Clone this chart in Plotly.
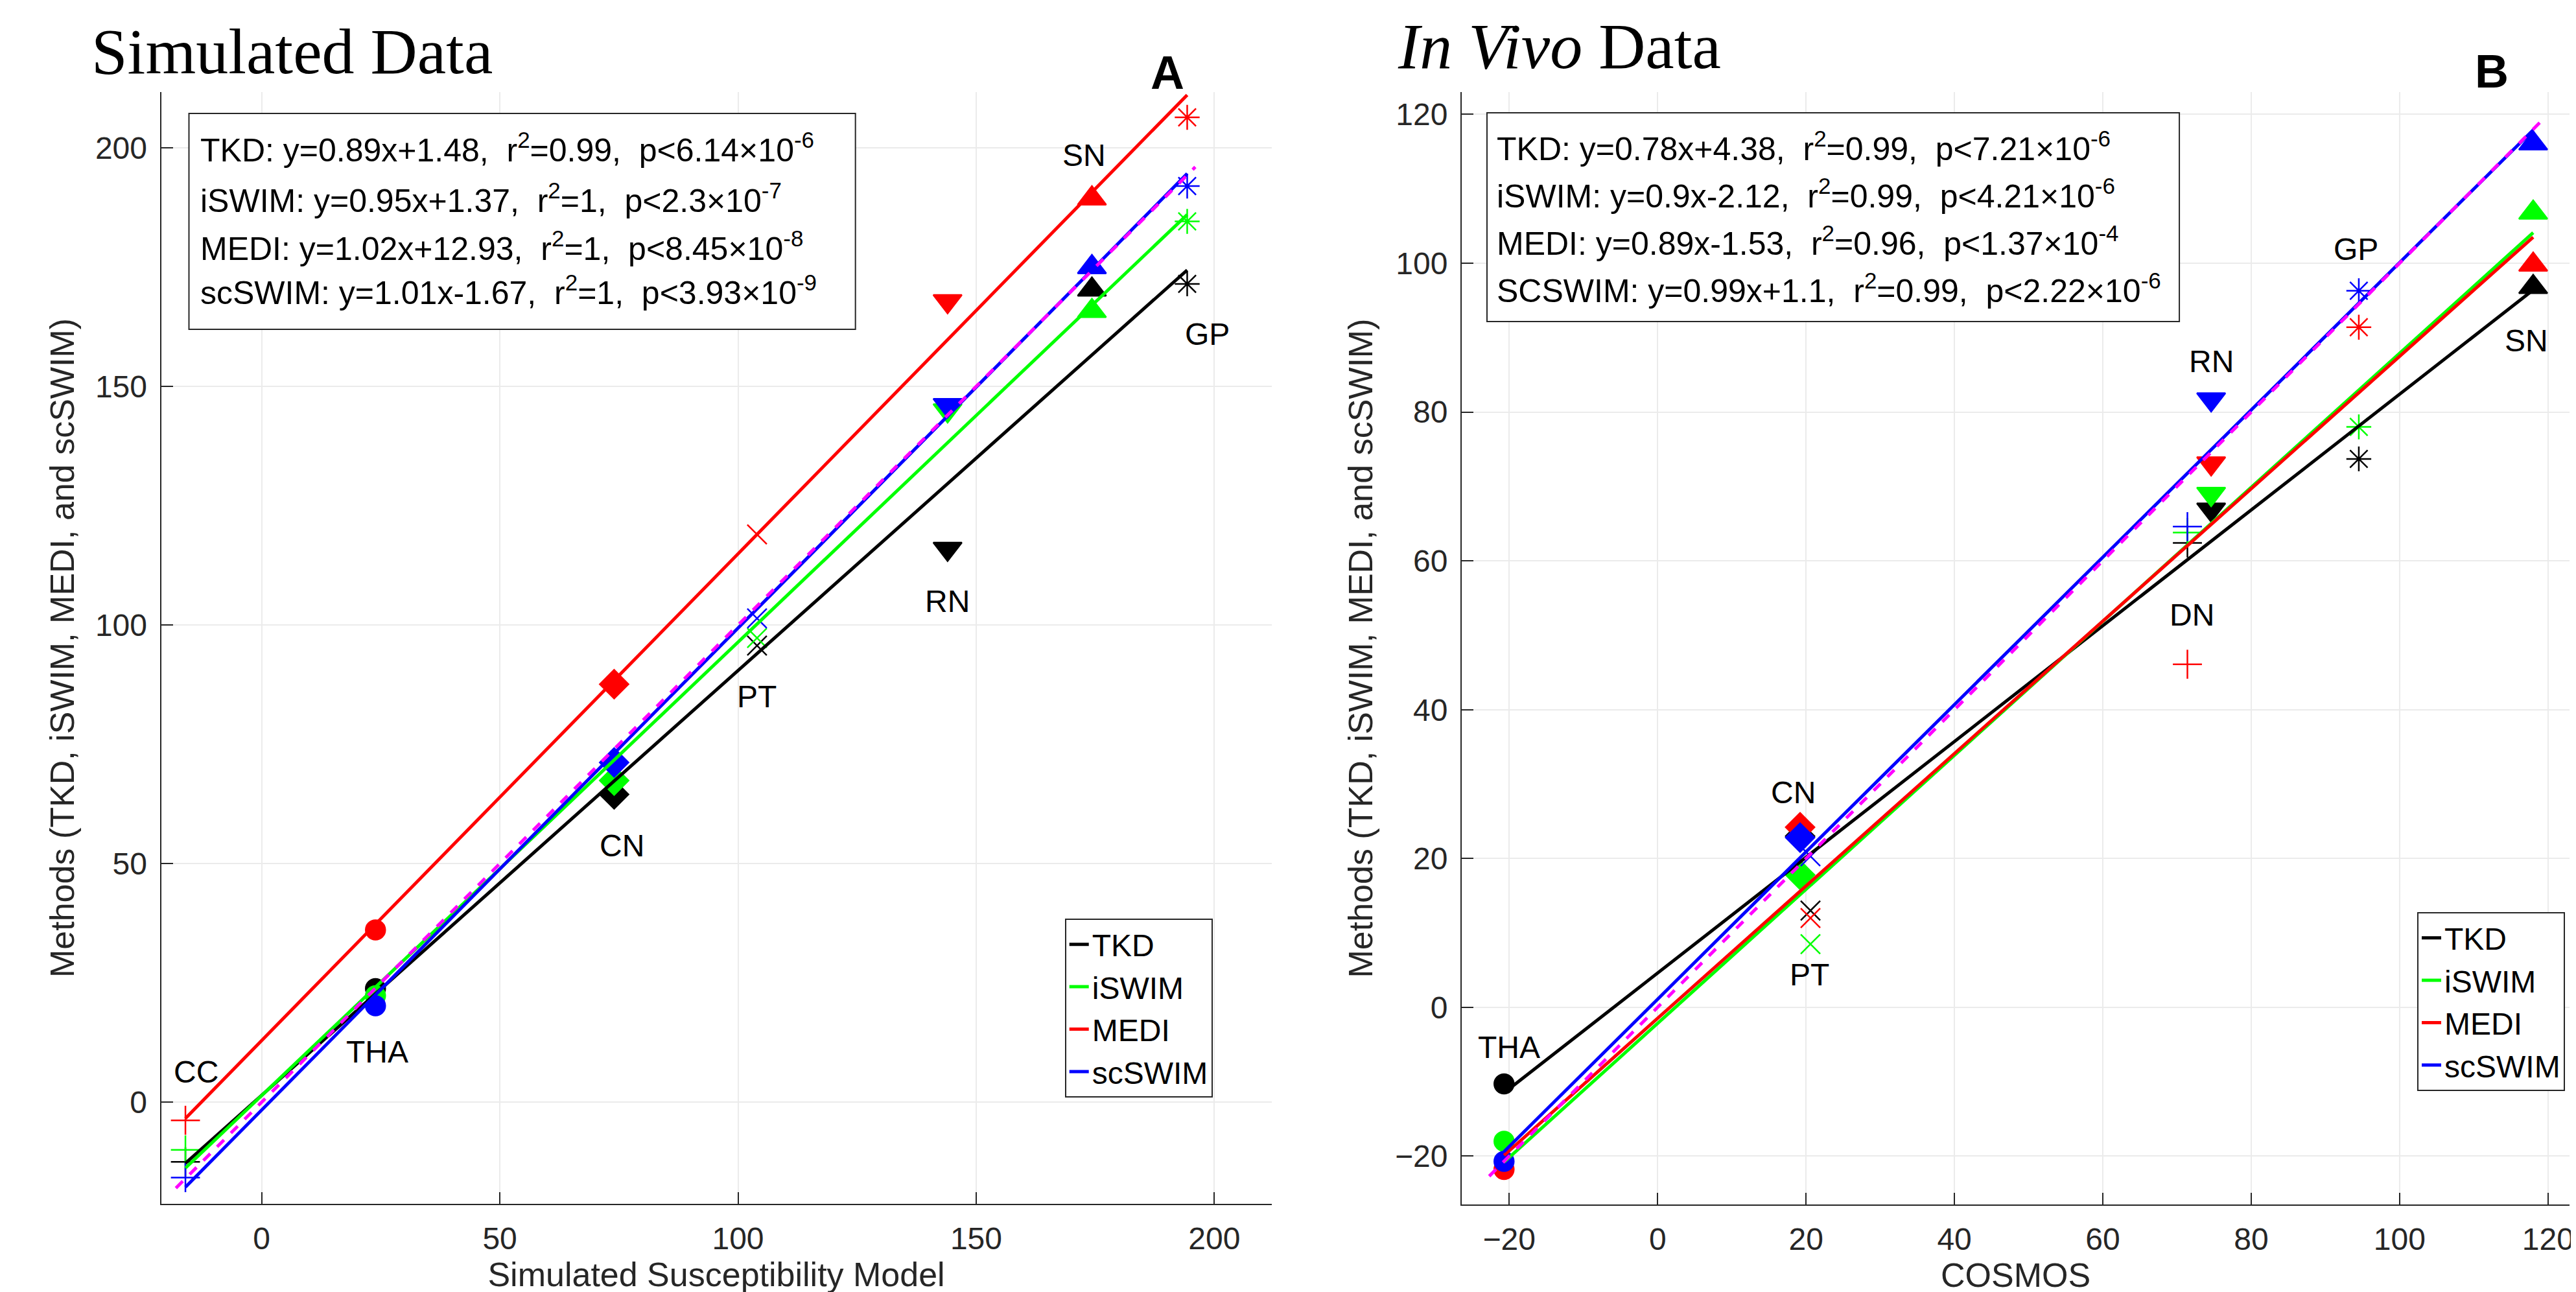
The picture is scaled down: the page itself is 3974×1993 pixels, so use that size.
import plotly.graph_objects as go

# ---- data ----
methods = ["TKD", "iSWIM", "MEDI", "scSWIM"]
colors = ["#000000", "#00ff00", "#ff0000", "#0000ff"]

# Panel A : simulated data
regions_a = ["CC", "THA", "CN", "PT", "RN", "SN", "GP"]
model_a = [-16.0, 23.9, 74.0, 104.0, 144.0, 174.3, 194.3]
tkd_a = [-12.5, 23.8, 64.5, 95.7, 116.0, 170.3, 171.5]
iswim_a = [-10.0, 22.3, 67.4, 97.3, 145.0, 165.8, 184.6]
medi_a = [-3.8, 36.1, 87.6, 119.0, 167.9, 189.4, 206.4]
scswim_a = [-15.8, 20.2, 71.2, 101.4, 146.1, 175.0, 192.0]
symbols_a = ["cross-thin-open", "circle", "diamond", "x-thin-open",
             "triangle-down", "triangle-up", "asterisk-open"]

# fitted lines (end points) and identity line, panel A
fit_x_a = [-16.0, 194.3]
fit_tkd_a = [-12.8, 174.4]
fit_iswim_a = [-13.8, 186.0]
fit_medi_a = [-3.4, 211.1]
fit_scswim_a = [-17.8, 194.6]
ident_a = [-18.0, 196.0]

# Panel B : in vivo data
regions_b = ["THA", "CN", "PT", "DN", "RN", "GP", "SN"]
cosmos_b = [-20.7, 19.2, 20.6, 71.4, 74.6, 94.5, 118.0]
tkd_b = [-10.3, 23.0, 13.0, 62.4, 66.9, 73.7, 96.8]
iswim_b = [-18.0, 17.8, 8.5, 63.8, 69.0, 78.0, 106.8]
medi_b = [-21.8, 24.2, 12.0, 46.1, 73.1, 91.4, 99.8]
scswim_b = [-20.7, 22.8, 20.3, 64.6, 81.7, 96.3, 116.1]
symbols_b = ["circle", "diamond", "x-thin-open", "cross-thin-open",
             "triangle-down", "asterisk-open", "triangle-up"]

fit_x_b = [-20.7, 118.0]
fit_tkd_b = [-11.5, 96.4]
fit_iswim_b = [-20.8, 104.1]
fit_medi_b = [-19.9, 103.5]
fit_scswim_b = [-19.4, 117.9]
ident_b = [-22.7, 119.0]

# region labels
label_a_x = [-13.7, 24.3, 75.7, 104.0, 144.0, 172.7, 198.5]
label_a_y = [6.4, 10.6, 53.8, 85.0, 105.0, 198.4, 161.0]
label_b_x = [-20.0, 18.3, 20.5, 72.0, 74.6, 94.1, 117.1]
label_b_y = [-5.4, 28.9, 4.4, 52.7, 86.8, 101.9, 89.6]

stats_a = [
    "TKD: y=0.89x+1.48,\u00a0 r<sup>2</sup>=0.99,\u00a0 p&lt;6.14\u00d710<sup>-6</sup>",
    "iSWIM: y=0.95x+1.37,\u00a0 r<sup>2</sup>=1,\u00a0 p&lt;2.3\u00d710<sup>-7</sup>",
    "MEDI: y=1.02x+12.93,\u00a0 r<sup>2</sup>=1,\u00a0 p&lt;8.45\u00d710<sup>-8</sup>",
    "scSWIM: y=1.01x-1.67,\u00a0 r<sup>2</sup>=1,\u00a0 p&lt;3.93\u00d710<sup>-9</sup>",
]
stats_b = [
    "TKD: y=0.78x+4.38,\u00a0 r<sup>2</sup>=0.99,\u00a0 p&lt;7.21\u00d710<sup>-6</sup>",
    "iSWIM: y=0.9x-2.12,\u00a0 r<sup>2</sup>=0.99,\u00a0 p&lt;4.21\u00d710<sup>-6</sup>",
    "MEDI: y=0.89x-1.53,\u00a0 r<sup>2</sup>=0.96,\u00a0 p&lt;1.37\u00d710<sup>-4</sup>",
    "SCSWIM: y=0.99x+1.1,\u00a0 r<sup>2</sup>=0.99,\u00a0 p&lt;2.22\u00d710<sup>-6</sup>",
]

# ---- layout helpers (pixel -> paper) ----
W, H = 3974, 1993


def px(x):
    return x / W


def py(y):
    return 1 - y / H


SANS = "Liberation Sans, Arial, Helvetica, sans-serif"
SERIF = "Liberation Serif, Times New Roman, serif"

# marker size per symbol kind
sym_size = {"circle": 30, "diamond": 34, "triangle-down": 38, "triangle-up": 38,
            "cross-thin-open": 32, "x-thin-open": 30, "asterisk-open": 32}

fig = go.Figure()

panels = [
    ("x", "y", "legend", model_a, [tkd_a, iswim_a, medi_a, scswim_a], symbols_a,
     fit_x_a, [fit_tkd_a, fit_iswim_a, fit_medi_a, fit_scswim_a], ident_a),
    ("x2", "y2", "legend2", cosmos_b, [tkd_b, iswim_b, medi_b, scswim_b], symbols_b,
     fit_x_b, [fit_tkd_b, fit_iswim_b, fit_medi_b, fit_scswim_b], ident_b),
]

for xa, ya, leg, xs, series, syms, fx, fits, ident in panels:
    sizes = [sym_size[s] for s in syms]
    # region markers
    for name, col, vals in zip(methods, colors, series):
        fig.add_trace(go.Scatter(
            x=xs, y=vals, mode="markers", xaxis=xa, yaxis=ya,
            showlegend=False, hoverinfo="x+y",
            marker=dict(symbol=syms, size=sizes, color=col, opacity=1,
                        line=dict(color=col, width=2.5)),
        ))
    # fitted lines
    for name, col, vals in zip(methods, colors, fits):
        fig.add_trace(go.Scatter(
            x=fx, y=vals, mode="lines", name=name, xaxis=xa, yaxis=ya,
            legend=leg, line=dict(color=col, width=5),
        ))
    # identity line
    fig.add_trace(go.Scatter(
        x=ident, y=ident, mode="lines", xaxis=xa, yaxis=ya, showlegend=False,
        line=dict(color="#ff00ff", width=5, dash="dash"),
    ))

axis_common = dict(
    showgrid=True, gridcolor="#ebebeb", gridwidth=2,
    showline=True, linecolor="#262626", linewidth=2, mirror=False,
    ticks="inside", ticklen=18, tickwidth=2, tickcolor="#262626",
    zeroline=False, tickfont=dict(family=SANS, size=48, color="#262626"),
    ticklabelstandoff=10,
)

ytitle = "Methods (TKD, iSWIM, MEDI, and scSWIM)"

legend_common = dict(xanchor="right", yanchor="bottom",
                     bgcolor="white", bordercolor="#262626", borderwidth=2,
                     font=dict(family=SANS, size=48, color="black"),
                     tracegroupgap=0)

fig.update_layout(
    width=W, height=H,
    margin=dict(l=0, r=0, t=0, b=0),
    paper_bgcolor="white", plot_bgcolor="white",
    font=dict(family=SANS, color="black"),
    xaxis=dict(domain=[px(241), px(1957)], range=[-21.1, 212], dtick=50,
               anchor="y",
               title=dict(text="Simulated Susceptibility Model", standoff=12,
                          font=dict(size=52, color="#262626")),
               **axis_common),
    yaxis=dict(domain=[py(1849), py(134)], range=[-21.3, 211.7], dtick=50,
               anchor="x",
               title=dict(text=ytitle, standoff=16,
                          font=dict(size=52, color="#262626")),
               **axis_common),
    xaxis2=dict(domain=[px(2251), px(3963)], range=[-26.4, 122.9], dtick=20,
                anchor="y2",
                title=dict(text="COSMOS", standoff=12,
                           font=dict(size=52, color="#262626")),
                **axis_common),
    yaxis2=dict(domain=[py(1850), py(134)], range=[-26.5, 123], dtick=20,
                anchor="x2",
                title=dict(text=ytitle, standoff=18,
                           font=dict(size=52, color="#262626")),
                **axis_common),
    legend=dict(x=px(1866), y=py(1685), **legend_common),
    legend2=dict(x=px(3956), y=py(1675), **legend_common),
)

# statistics boxes
boxes = [((284, 167, 1314, 500), 300, [220, 298, 372, 440], stats_a),
         ((2290, 166, 3360, 488), 2303, [218, 291, 364, 437], stats_b)]
for (x0, y0, x1, y1), tx, rows, lines in boxes:
    fig.add_shape(type="rect", xref="paper", yref="paper",
                  x0=px(x0), x1=px(x1), y0=py(y1), y1=py(y0),
                  line=dict(color="#262626", width=2), fillcolor="white",
                  layer="above")
    for ry, txt in zip(rows, lines):
        fig.add_annotation(xref="paper", yref="paper", x=px(tx), y=py(ry),
                           xanchor="left", yanchor="middle", showarrow=False,
                           text=txt, font=dict(family=SANS, size=50, color="black"))

# region labels
for xa, ya, lx, ly, names in [("x", "y", label_a_x, label_a_y, regions_a),
                              ("x2", "y2", label_b_x, label_b_y, regions_b)]:
    for x, y, t in zip(lx, ly, names):
        fig.add_annotation(xref=xa, yref=ya, x=x, y=y, text=t, showarrow=False,
                           font=dict(family=SANS, size=48, color="black"))

# panel titles and letters
fig.add_annotation(xref="paper", yref="paper", x=px(131), y=py(72),
                   xanchor="left", yanchor="middle", showarrow=False,
                   text="Simulated Data",
                   font=dict(family=SERIF, size=100, color="black"))
fig.add_annotation(xref="paper", yref="paper", x=px(2150), y=py(64),
                   xanchor="left", yanchor="middle", showarrow=False,
                   text="<i>In Vivo</i> Data",
                   font=dict(family=SERIF, size=100, color="black"))
fig.add_annotation(xref="paper", yref="paper", x=px(1796), y=py(62),
                   showarrow=False, text="<b>A</b>",
                   font=dict(family=SANS, size=72, color="black"))
fig.add_annotation(xref="paper", yref="paper", x=px(3871), y=py(60),
                   showarrow=False, text="<b>B</b>",
                   font=dict(family=SANS, size=72, color="black"))

fig.write_html("out.html")
